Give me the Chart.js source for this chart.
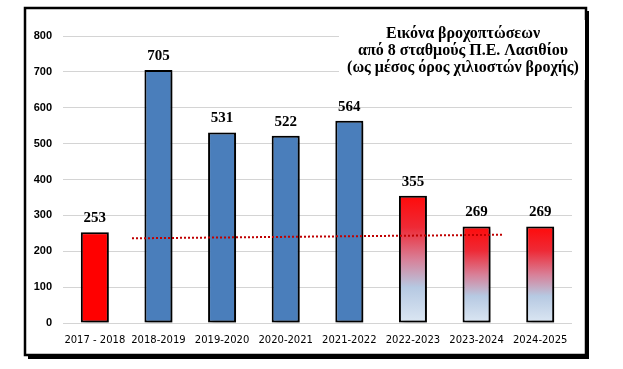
<!DOCTYPE html>
<html>
<head>
<meta charset="utf-8">
<script src="https://cdn.jsdelivr.net/npm/chart.js@4/dist/chart.umd.min.js"></script>
<style>
  html, body { margin: 0; padding: 0; background: #fff; }
  #wrap { width: 623px; height: 369px; position: relative; }
</style>
</head>
<body>
<div id="wrap"><canvas id="rainChart" width="623" height="369"></canvas></div>
<script>
// rainfall per hydrological year, mm (mean of 8 stations)
const seasons = ['2017 - 2018', '2018-2019', '2019-2020', '2020-2021', '2021-2022', '2022-2023', '2023-2024', '2024-2025'];
const rainfall = [253, 705, 531, 522, 564, 355, 269, 269];
const yTicks = [0, 100, 200, 300, 400, 500, 600, 700, 800];
// dotted red reference line: start / end (x as category index, y in mm)
const refLineX = [0.22, 6.78];
const refLineY = [236, 246];
const titleLines = ['Εικόνα βροχοπτώσεων', 'από 8 σταθμούς Π.Ε. Λασιθίου', '(ως μέσος όρος χιλιοστών βροχής)'];

const BLUE = '#4a7ebb';
const RED = '#ff0000';

function barFill(context) {
    var i = context.dataIndex;
    if (i === 0) return RED;
    if (i < 5) return BLUE;
    var chart = context.chart;
    var y = chart.scales.y;
    if (!y || !chart.chartArea) return RED;
    var top = y.getPixelForValue(rainfall[i]);
    var bottom = y.getPixelForValue(0);
    var g = chart.ctx.createLinearGradient(0, top, 0, bottom);
    g.addColorStop(0, '#ff0a0a');
    g.addColorStop(0.25, '#ee2a36');
    g.addColorStop(0.5, '#d88098');
    g.addColorStop(0.72, '#b6c9e2');
    g.addColorStop(1, '#dce7f3');
    return g;
}

// frame with hard shadow, like the pasted picture
const framePlugin = {
    id: 'frame',
    beforeDraw(chart) {
        const ctx = chart.ctx;
        ctx.save();
        ctx.fillStyle = '#fff';
        ctx.fillRect(0, 0, chart.width, chart.height);
        ctx.fillStyle = '#000';
        ctx.fillRect(28, 11, 561, 348);
        ctx.fillStyle = '#fff';
        ctx.fillRect(25, 8, 561, 347);
        ctx.strokeStyle = '#000';
        ctx.lineWidth = 2.5;
        ctx.strokeRect(25, 8, 561, 347);
        ctx.restore();
    }
};

const shadowPlugin = {
    id: 'barShadow',
    beforeDatasetDraw(chart, args) {
        if (args.meta.type !== 'bar') return;
        const ctx = chart.ctx;
        ctx.save();
        ctx.shadowColor = 'rgba(0,0,0,0.45)';
        ctx.shadowBlur = 4;
        ctx.shadowOffsetX = 3;
        ctx.shadowOffsetY = 2;
    },
    afterDatasetDraw(chart, args) {
        if (args.meta.type !== 'bar') return;
        chart.ctx.restore();
    }
};

const labelPlugin = {
    id: 'valueLabels',
    afterDatasetsDraw(chart) {
        const ctx = chart.ctx;
        const meta = chart.getDatasetMeta(0);
        ctx.save();
        ctx.font = 'bold 15px "Liberation Serif", "Times New Roman", serif';
        ctx.fillStyle = '#000';
        ctx.textAlign = 'center';
        ctx.textBaseline = 'middle';
        meta.data.forEach(function (bar, i) {
            ctx.fillText(String(rainfall[i]), bar.x, bar.y - 14);
        });
        ctx.restore();
    }
};

const titlePlugin = {
    id: 'boxTitle',
    beforeDatasetsDraw(chart) {
        const ctx = chart.ctx;
        ctx.save();
        ctx.fillStyle = '#fff';
        ctx.fillRect(339, 20, 246, 60);
        ctx.font = 'bold 16px "Liberation Serif", "Times New Roman", serif';
        ctx.fillStyle = '#000';
        ctx.textAlign = 'center';
        ctx.textBaseline = 'middle';
        titleLines.forEach(function (t, i) {
            ctx.fillText(t, 463, 34 + i * 17);
        });
        ctx.restore();
    }
};

const ctx = document.getElementById('rainChart').getContext('2d');
new Chart(ctx, {
    type: 'bar',
    data: {
        labels: seasons,
        datasets: [{
            label: 'mm',
            data: rainfall,
            backgroundColor: barFill,
            borderColor: '#000',
            borderWidth: 2,
            borderSkipped: false,
            grouped: false,
            barPercentage: 0.44,
            categoryPercentage: 1,
            order: 2
        }, {
            type: 'line',
            label: 'ref',
            xAxisID: 'x2',
            data: refLineX.map((x, i) => ({ x: x, y: refLineY[i] })),
            borderColor: '#c00000',
            borderWidth: 2,
            borderDash: [2, 2],
            pointRadius: 0,
            fill: false,
            order: 1
        }]
    },
    options: {
        responsive: false,
        animation: false,
        devicePixelRatio: 1,
        layout: { padding: { left: 0, right: 51, top: 36, bottom: 0 } },
        plugins: {
            legend: { display: false },
            tooltip: { enabled: false },
            title: { display: false }
        },
        scales: {
            x: {
                grid: { display: false, drawTicks: false },
                border: { display: false },
                ticks: {
                    padding: 11,
                    color: '#000',
                    maxRotation: 0,
                    autoSkip: false,
                    font: { family: '"DejaVu Sans", Verdana, sans-serif', size: 10 }
                },
                afterFit(scale) { scale.height = 46; }
            },
            x2: {
                type: 'linear',
                display: false,
                min: -0.5,
                max: seasons.length - 0.5
            },
            y: {
                min: 0,
                max: 800,
                afterBuildTicks(scale) { scale.ticks = yTicks.map(v => ({ value: v })); },
                grid: { color: '#d4d4d4', lineWidth: 1, drawTicks: false },
                border: { display: false },
                ticks: {
                    padding: 11,
                    color: '#000',
                    font: { family: '"Liberation Sans", Arial, sans-serif', size: 11, weight: 'bold' }
                },
                afterFit(scale) { scale.width = 63; }
            }
        }
    },
    plugins: [framePlugin, titlePlugin, shadowPlugin, labelPlugin]
});
</script>
</body>
</html>
